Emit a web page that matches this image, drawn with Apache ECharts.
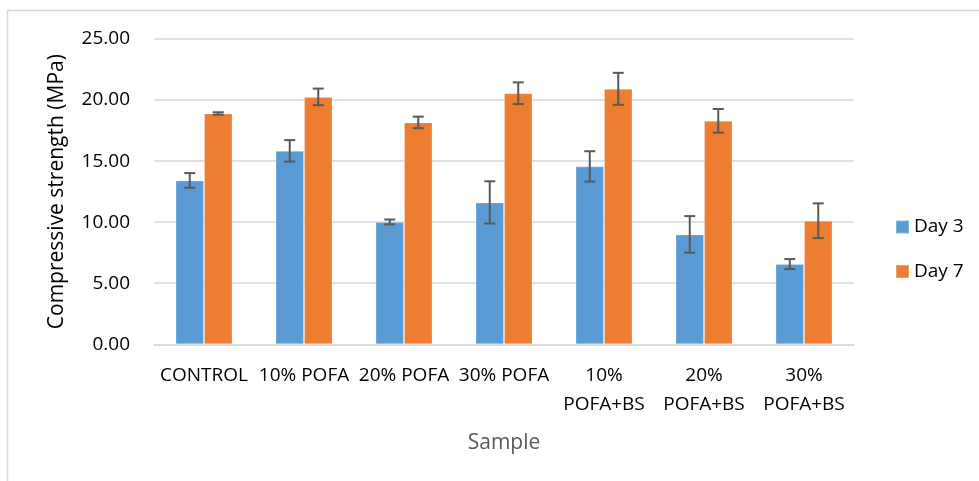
<!DOCTYPE html>
<html>
<head>
<meta charset="utf-8">
<script src="https://cdn.jsdelivr.net/npm/echarts@6/dist/echarts.min.js"></script>
<style>
html,body{margin:0;padding:0;background:#fff;}
#chart{width:979px;height:481px;}
</style>
</head>
<body>
<div id="chart"></div>
<script>
var categories = ['CONTROL', '10% POFA', '20% POFA', '30% POFA', '10% POFA+BS', '20% POFA+BS', '30% POFA+BS'];
var day3 = [13.42, 15.84, 10.02, 11.62, 14.57, 9.00, 6.57];
var day3Err = [0.60, 0.88, 0.20, 1.73, 1.24, 1.50, 0.41];
var day7 = [18.90, 20.26, 18.17, 20.56, 20.92, 18.30, 10.12];
var day7Err = [0.10, 0.68, 0.47, 0.89, 1.31, 0.97, 1.42];
var yTicks = [0, 5, 10, 15, 20, 25];

var FONT = '"Open Sans", sans-serif';
var BARW = 0.285;

function errData(vals, errs) {
  return vals.map(function (v, i) { return [i, v - errs[i], v + errs[i]]; });
}
function errSeries(name, vals, errs, side) {
  return {
    type: 'custom',
    name: name + ' err',
    data: errData(vals, errs),
    z: 10,
    silent: true,
    renderItem: function (params, api) {
      var idx = api.value(0);
      var lo = api.coord([idx, api.value(1)]);
      var hi = api.coord([idx, api.value(2)]);
      var band = api.size([1, 0])[0];
      var x = lo[0] + side * band * BARW / 2;
      var cap = 5.5;
      var st = { stroke: '#595959', lineWidth: 2 };
      return {
        type: 'group',
        children: [
          { type: 'line', shape: { x1: x, y1: hi[1], x2: x, y2: lo[1] }, style: st },
          { type: 'line', shape: { x1: x - cap, y1: hi[1], x2: x + cap, y2: hi[1] }, style: st },
          { type: 'line', shape: { x1: x - cap, y1: lo[1], x2: x + cap, y2: lo[1] }, style: st }
        ]
      };
    }
  };
}

var chart = echarts.init(document.getElementById('chart'));
chart.setOption({
  animation: false,
  backgroundColor: '#fff',
  textStyle: { fontFamily: FONT },
  graphic: [{
    type: 'rect',
    shape: { x: 7.5, y: 10.5, width: 1000, height: 500 },
    style: { fill: 'none', stroke: '#d9d9d9', lineWidth: 1.5 },
    z: -10
  }],
  grid: { left: 154, right: 125, top: 39, bottom: 136.7 },
  legend: {
    orient: 'vertical',
    left: 895,
    top: 217,
    padding: 0,
    itemWidth: 13,
    itemHeight: 13,
    itemGap: 24.5,
    icon: 'rect',
    textStyle: { fontFamily: FONT, fontSize: 19, color: '#000', lineHeight: 20, padding: [0, 0, 0, 0] },
    data: ['Day 3', 'Day 7']
  },
  xAxis: {
    type: 'category',
    data: categories,
    name: 'Sample',
    nameLocation: 'middle',
    nameGap: 88,
    nameTextStyle: { fontFamily: FONT, fontSize: 21, color: '#595959' },
    axisLine: { lineStyle: { color: '#d9d9d9', width: 1.5 } },
    axisTick: { show: false },
    axisLabel: {
      interval: 0,
      margin: 17,
      fontFamily: FONT,
      fontSize: 19,
      color: '#000',
      lineHeight: 29,
      formatter: function (v) { return v.indexOf('+') >= 0 ? v.replace(' ', '\n') : v; }
    }
  },
  yAxis: {
    type: 'value',
    min: 0,
    max: 25,
    interval: 5,
    name: 'Compressive strength (MPa)',
    nameLocation: 'middle',
    nameGap: 86,
    nameTextStyle: { fontFamily: FONT, fontSize: 21, color: '#000' },
    axisLine: { show: false },
    axisTick: { show: false },
    splitLine: { lineStyle: { color: '#d9d9d9', width: 1.5 } },
    axisLabel: {
      margin: 24,
      fontFamily: FONT,
      fontSize: 19,
      color: '#000',
      formatter: function (v) { return yTicks.indexOf(v) >= 0 ? v.toFixed(2) : ''; }
    }
  },
  series: [
    {
      name: 'Day 3', type: 'bar', data: day3,
      barWidth: (BARW * 100) + '%', barGap: '0%',
      itemStyle: { color: '#5B9BD5', borderColor: 'rgba(255,255,255,0.25)', borderWidth: 1 }
    },
    {
      name: 'Day 7', type: 'bar', data: day7,
      barWidth: (BARW * 100) + '%', barGap: '0%',
      itemStyle: { color: '#ED7D31', borderColor: 'rgba(255,255,255,0.25)', borderWidth: 1 }
    },
    errSeries('Day 3', day3, day3Err, -1),
    errSeries('Day 7', day7, day7Err, 1)
  ]
});
</script>
</body>
</html>
